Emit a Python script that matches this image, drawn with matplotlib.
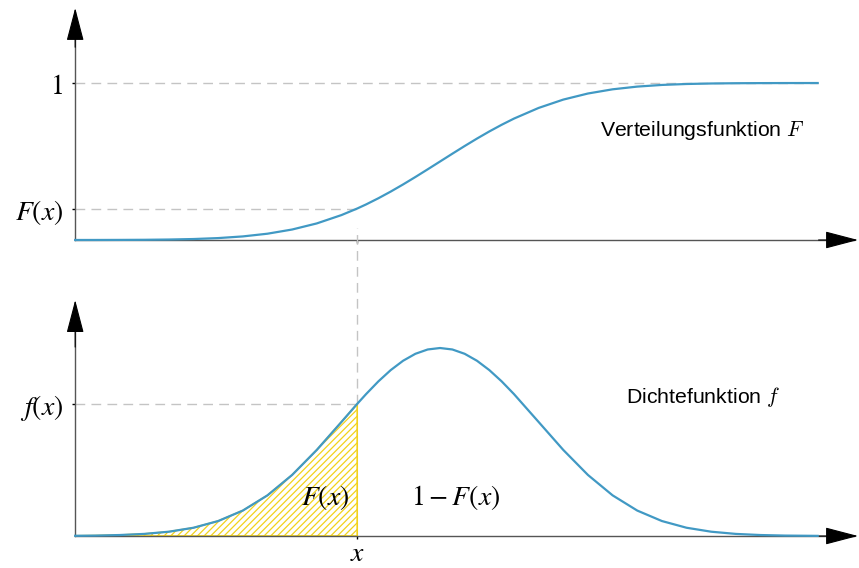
import numpy as np
import matplotlib
matplotlib.use('Agg')
import matplotlib.pyplot as plt

# Werte (x in Einheiten der Standardabweichung)
x_vals = [-3.7, -3.5, -3.25, -3.0, -2.75, -2.5, -2.25, -2.0, -1.75, -1.5, -1.25, -1.0,
          -0.84, -0.75, -0.625, -0.5, -0.375, -0.25, -0.125, 0.0, 0.125, 0.25, 0.375,
          0.5, 0.625, 0.75, 1.0, 1.25, 1.5, 1.75, 2.0, 2.25, 2.5, 2.75, 3.0, 3.25, 3.5, 3.83]
# Verteilungsfunktion F
cdf_vals = [0.0001, 0.0002, 0.0006, 0.0013, 0.0030, 0.0062, 0.0122, 0.0228, 0.0401, 0.0668,
            0.1056, 0.1587, 0.2005, 0.2266, 0.2660, 0.3085, 0.3538, 0.4013, 0.4503, 0.5,
            0.5497, 0.5987, 0.6462, 0.6915, 0.7340, 0.7734, 0.8413, 0.8944, 0.9332, 0.9599,
            0.9772, 0.9878, 0.9938, 0.9970, 0.9987, 0.9994, 0.9998, 0.9999]
# Dichtefunktion f (relativ zum Maximum)
pdf_vals = [0.0011, 0.0022, 0.0051, 0.0111, 0.0228, 0.0439, 0.0796, 0.1353, 0.2163, 0.3247,
            0.4578, 0.6065, 0.7027, 0.7548, 0.8226, 0.8825, 0.9321, 0.9692, 0.9922, 1.0,
            0.9922, 0.9692, 0.9321, 0.8825, 0.8226, 0.7548, 0.6065, 0.4578, 0.3247, 0.2163,
            0.1353, 0.0796, 0.0439, 0.0228, 0.0111, 0.0051, 0.0022, 0.0007]
x_mark = -0.84
i_mark = x_vals.index(x_mark)
F_mark = cdf_vals[i_mark]
f_mark = pdf_vals[i_mark]

x = np.array(x_vals)
F = np.array(cdf_vals)
f = np.array(pdf_vals)

plt.rcParams['mathtext.fontset'] = 'stix'
plt.rcParams['hatch.linewidth'] = 0.9

blau = '#4199c4'
gelb = '#f2d21b'
grau = '#c4c4c4'
achse = '#555555'
gross = 20

fig = plt.figure(figsize=(8.59, 5.68), dpi=100)
W, H = 859, 568


def make_axes(px_box, xlim, ylim):
    x0, y0, x1, y1 = px_box
    ax = fig.add_axes([x0 / W, 1 - y1 / H, (x1 - x0) / W, (y1 - y0) / H])
    ax.set_xlim(*xlim)
    ax.set_ylim(*ylim)
    ax.patch.set_alpha(0)
    for s in ['top', 'right']:
        ax.spines[s].set_visible(False)
    ax.spines['left'].set_position(('data', x[0]))
    ax.spines['bottom'].set_position(('data', 0))
    for s in ['left', 'bottom']:
        ax.spines[s].set_color(achse)
        ax.spines[s].set_linewidth(1.0)
    ax.tick_params(direction='out', length=2.5, width=1, color='black', pad=6)
    return ax


def arrows(ax, xtip, ytip, xlen, ylen):
    style = '-|>,head_length=2.1,head_width=0.55'
    ax.annotate('', xy=(xtip, 0), xytext=(xtip - xlen, 0),
                arrowprops=dict(arrowstyle=style, mutation_scale=10, color='black',
                                lw=0.8, shrinkA=0, shrinkB=0), annotation_clip=False)
    ax.annotate('', xy=(x[0], ytip), xytext=(x[0], ytip - ylen),
                arrowprops=dict(arrowstyle=style, mutation_scale=10, color='black',
                                lw=0.8, shrinkA=0, shrinkB=0), annotation_clip=False)


# ---- oben: Verteilungsfunktion ----
ax1 = make_axes((60, 5, 859, 250), (-3.854, 4.249), (-0.0637, 1.497))
ax1.spines['left'].set_bounds(0, 1.45)
ax1.spines['bottom'].set_bounds(x[0], 4.2)
ax1.plot(x, F, color=blau, lw=1.6, zorder=4)
ax1.plot([x[0], x[-1]], [1, 1], color=grau, lw=1, dashes=(7, 4.5), zorder=1)
ax1.plot([x[0], x_mark], [F_mark, F_mark], color=grau, lw=1, dashes=(7, 4.5), zorder=1)
ax1.set_yticks([F_mark, 1])
ax1.set_yticklabels(['$F(x)$', '$1$'], fontsize=gross)
ax1.set_xticks([x_mark])
ax1.set_xticklabels([''])
ax1.text(1.62, 0.70, 'Verteilungsfunktion $F$', fontsize=15.3, family='Liberation Sans',
         math_fontfamily='cm', ha='left', va='center')
arrows(ax1, 4.239, 1.478, 0.4, 0.25)

# ---- unten: Dichtefunktion ----
ax2 = make_axes((60, 295, 859, 545), (-3.854, 4.249), (-0.0479, 1.282))
ax2.spines['left'].set_bounds(0, 1.23)
ax2.spines['bottom'].set_bounds(x[0], 4.2)
ax2.fill_between(x[:i_mark + 1], f[:i_mark + 1], 0, facecolor='white', edgecolor=gelb,
                 hatch='/////', lw=1.2, zorder=2)
ax2.plot(x, f, color=blau, lw=1.6, zorder=4)
ax2.plot([x[0], x_mark], [f_mark, f_mark], color=grau, lw=1, dashes=(7, 4.5), zorder=1)
ax2.plot([x_mark, x_mark], [f_mark, 1.638], color=grau, lw=1, dashes=(7, 4.5),
         zorder=1, clip_on=False)
ax2.set_yticks([f_mark])
ax2.set_yticklabels(['$f(x)$'], fontsize=gross)
ax2.set_xticks([x_mark])
ax2.set_xticklabels(['$x$'], fontsize=gross)
ax2.tick_params(axis='x', pad=0)
ax2.text(1.89, 0.739, 'Dichtefunktion $f$', fontsize=15.3, family='Liberation Sans',
         math_fontfamily='cm', ha='left', va='center')
ax2.text(-1.166, 0.207, '$F(x)$', fontsize=gross, ha='center', va='center', zorder=5)
ax2.text(0.162, 0.207, r'$1-F(x)$', fontsize=gross, ha='center', va='center', zorder=5)
arrows(ax2, 4.239, 1.255, 0.4, 0.25)

fig.savefig('out.png', dpi=100)
